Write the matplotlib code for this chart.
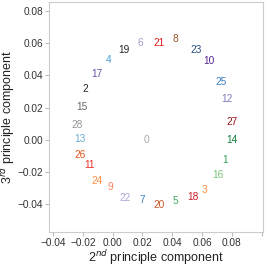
import matplotlib
matplotlib.use("Agg")
import matplotlib.pyplot as plt

labels = ["0", "1", "2", "3", "4", "5", "6", "7", "8", "9", "10", "11", "12", "13", "14",
          "15", "16", "17", "18", "19", "20", "21", "22", "23", "24", "25", "26", "27", "28"]
pc2 = [0.0230, 0.0756, -0.0186, 0.0617, -0.0027, 0.0423, 0.0185, 0.0199, 0.0423, -0.0018,
       0.0646, -0.0152, 0.0769, -0.0219, 0.0799, -0.0206, 0.0707, -0.0107, 0.0539, 0.0076,
       0.0311, 0.0309, 0.0085, 0.0561, -0.0107, 0.0727, -0.0215, 0.0801, -0.0235]
pc3 = [-0.0004, -0.0124, 0.0313, -0.0311, 0.0495, -0.0383, 0.0603, -0.0373, 0.0625, -0.0296,
       0.0489, -0.0157, 0.0253, 0.0006, 0.0000, 0.0205, -0.0217, 0.0408, -0.0358, 0.0557,
       -0.0404, 0.0603, -0.0362, 0.0557, -0.0255, 0.0357, -0.0097, 0.0112, 0.0089]
colors = ["#aaaaaa", "#31a354", "#252525", "#fd8d3c", "#4a9bd1", "#41ab5d", "#9e9ac8", "#3a7fc0",
          "#a0522d", "#fb8060", "#54278f", "#e8302a", "#807dba", "#6baed6", "#11803a",
          "#666666", "#74c476", "#6a51a3", "#c81e2a", "#252525", "#c8562a", "#e31a1c", "#a8a6d4",
          "#234a80", "#fd8d3c", "#3a7fc0", "#e0551a", "#99101a", "#969696"]

xticks = [-0.04, -0.02, 0.00, 0.02, 0.04, 0.06, 0.08, 0.10]
xticklabels = ["\u22120.04", "\u22120.02", "0.00", "0.02", "0.04", "0.06", "0.08", ""]
yticks = [-0.04, -0.02, 0.00, 0.02, 0.04, 0.06, 0.08]
yticklabels = ["\u22120.04", "\u22120.02", "0.00", "0.02", "0.04", "0.06", "0.08"]

plt.rcParams['font.family'] = ['Liberation Sans', 'DejaVu Sans']
fig = plt.figure(figsize=(2.66, 2.66), dpi=100)
ax = fig.add_axes([0.185, 0.128, 0.804, 0.864])
ax.set_xlim(-0.0425, 0.1009)
ax.set_ylim(-0.0573, 0.0855)

for lab, x, y, c in zip(labels, pc2, pc3, colors):
    ax.text(x, y, lab, color=c, fontsize=7.3, ha='center', va='center')

ax.set_xticks(xticks)
ax.set_xticklabels(xticklabels)
ax.set_yticks(yticks)
ax.set_yticklabels(yticklabels)
ax.tick_params(axis='both', direction='out', length=3, width=0.8, color='#bbbbbb',
               labelsize=7.3, labelcolor='#333333', pad=1.5)
for s in ax.spines.values():
    s.set_color('#cccccc')
    s.set_linewidth(0.8)
ax.set_xlabel("2$^{nd}$ principle component", fontsize=9, color='#222222', labelpad=0)
ax.set_ylabel("3$^{rd}$ principle component", fontsize=9, color='#222222', labelpad=0)

fig.savefig("out.png", dpi=100)
